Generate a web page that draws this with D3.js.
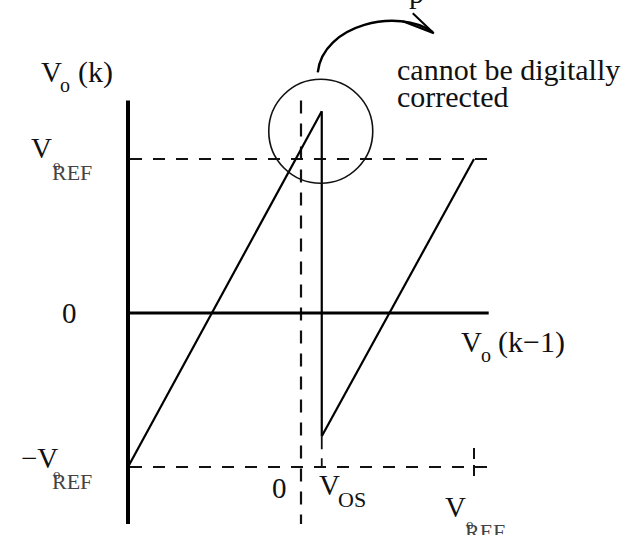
<!DOCTYPE html>
<html>
<head>
<meta charset="utf-8">
<script src="https://cdn.jsdelivr.net/npm/d3@7"></script>
<style>
  html, body { margin: 0; padding: 0; background: #ffffff; }
  svg { display: block; }
  text { font-family: "Liberation Serif", "Times New Roman", serif; fill: #111; }
</style>
</head>
<body>
<svg id="chart" width="628" height="535"></svg>
<script>
// Residue transfer characteristic of a 1-bit pipeline stage with comparator offset.
// Values are in units of VREF.
const vRef = 1;
const vOs = 0.12;

// Transfer curve: rising segment, jump at VOS, second rising segment.
const segmentLow = [
  { vin: -1.0, vout: -1.0 },
  { vin: 0.12, vout: 1.31 }
];
const jumpAtOffset = [
  { vin: 0.12, vout: 1.31 },
  { vin: 0.12, vout: -0.80 }
];
const segmentHigh = [
  { vin: 0.12, vout: -0.80 },
  { vin: 1.0, vout: 1.0 }
];

// Reference levels drawn as dashed guides.
const refLevels = [vRef, -vRef];

const svg = d3.select("#chart");

const x = d3.scaleLinear().domain([-1, 1]).range([128, 474]);
const y = d3.scaleLinear().domain([-1, 1]).range([467, 159]);

const line = d3.line().x(d => x(d.vin)).y(d => y(d.vout));

// Dashed reference levels ±VREF
svg.selectAll("line.ref")
  .data(refLevels)
  .join("line")
  .attr("class", "ref")
  .attr("x1", x(-1) + 2).attr("x2", x(1.1))
  .attr("y1", d => y(d)).attr("y2", d => y(d))
  .attr("stroke", "#111").attr("stroke-width", 2.2)
  .attr("stroke-dasharray", "12,11");

// Dashed vertical at Vo(k-1) = 0
svg.append("line")
  .attr("x1", x(0)).attr("x2", x(0))
  .attr("y1", y(1.38)).attr("y2", y(-1.37))
  .attr("stroke", "#111").attr("stroke-width", 2.2)
  .attr("stroke-dasharray", "13,10");

// Dashed drop from the curve minimum down to -VREF at VOS
svg.append("line")
  .attr("x1", x(vOs)).attr("x2", x(vOs))
  .attr("y1", y(-0.80)).attr("y2", y(-vRef))
  .attr("stroke", "#111").attr("stroke-width", 1.8)
  .attr("stroke-dasharray", "13,9");

// Short dashed tick at VREF on the input axis
svg.append("line")
  .attr("x1", x(vRef)).attr("x2", x(vRef))
  .attr("y1", y(-vRef) - 19).attr("y2", y(-vRef) + 11)
  .attr("stroke", "#111").attr("stroke-width", 2)
  .attr("stroke-dasharray", "11,6");

// Axes
svg.append("line")
  .attr("x1", x(-1)).attr("x2", x(-1))
  .attr("y1", y(1.38)).attr("y2", y(-1.37))
  .attr("stroke", "#000").attr("stroke-width", 4);
svg.append("line")
  .attr("x1", x(-1)).attr("x2", x(1.085))
  .attr("y1", y(0)).attr("y2", y(0))
  .attr("stroke", "#000").attr("stroke-width", 3.2);

// Transfer curve
[segmentLow, jumpAtOffset, segmentHigh].forEach(seg => {
  svg.append("path")
    .attr("d", line(seg))
    .attr("fill", "none")
    .attr("stroke", "#000")
    .attr("stroke-width", 2.2);
});

// Circle marking the overshoot region
const cx = x(vOs) - 1, cy = y(1.18);
const r = 52;
svg.append("circle")
  .attr("cx", cx).attr("cy", cy).attr("r", r)
  .attr("fill", "none").attr("stroke", "#111").attr("stroke-width", 1.6);

// Curved arrow pointing to the note
svg.append("path")
  .attr("d", `M${cx - 3},${cy - r - 7} C${cx + 2},${cy - r - 55} ${cx + 78},${cy - r - 72} ${cx + 112},${cy - r - 47}`)
  .attr("fill", "none").attr("stroke", "#000").attr("stroke-width", 2.4);
svg.append("path")
  .attr("d", `M${cx + 92},${cy - r - 66} L${cx + 113},${cy - r - 46} L${cx + 82},${cy - r - 58}`)
  .attr("fill", "none").attr("stroke", "#000").attr("stroke-width", 2);

// Note text
svg.append("text").attr("x", 397).attr("y", 80).attr("font-size", 30).text("cannot be digitally");
svg.append("text").attr("x", 397).attr("y", 107).attr("font-size", 30).text("corrected");
svg.append("text").attr("x", 409).attr("y", 3).attr("font-size", 30).text("p");

// Output axis label Vo(k)
svg.append("text").attr("x", 41).attr("y", 82).attr("font-size", 29).text("V");
svg.append("text").attr("x", 60).attr("y", 92).attr("font-size", 20).text("o");
svg.append("text").attr("x", 78).attr("y", 82).attr("font-size", 30).text("(k)");

// Input axis label Vo(k-1)
svg.append("text").attr("x", 461).attr("y", 352).attr("font-size", 29).text("V");
svg.append("text").attr("x", 481).attr("y", 362).attr("font-size", 20).text("o");
svg.append("text").attr("x", 498).attr("y", 352).attr("font-size", 30).text("(k−1)");

// Helper for V with an overlapping "o" and REF subscript
function vRefLabel(vx, vy, prefix) {
  svg.append("text").attr("x", vx).attr("y", vy).attr("font-size", 29)
    .attr("text-anchor", "start").text(prefix + "V");
}
function refSub(sx, sy) {
  svg.append("text").attr("x", sx).attr("y", sy).attr("font-size", 22)
    .style("fill", "#444").text("REF");
  svg.append("text").attr("x", sx + 1).attr("y", sy - 10).attr("font-size", 15)
    .style("fill", "#444").text("o");
}

// Output axis ticks
vRefLabel(31, y(vRef) - 1, "");
refSub(52, y(vRef) + 21);
svg.append("text").attr("x", 62).attr("y", y(0) + 10).attr("font-size", 29).text("0");
vRefLabel(21, y(-vRef) + 1, "−");
refSub(52, y(-vRef) + 22);

// Input axis ticks
svg.append("text").attr("x", 272).attr("y", 498).attr("font-size", 29).text("0");
svg.append("text").attr("x", 319).attr("y", 495).attr("font-size", 29).text("V");
svg.append("text").attr("x", 338).attr("y", 507).attr("font-size", 22).text("OS");
svg.append("text").attr("x", 445).attr("y", 517).attr("font-size", 29).text("V");
refSub(465, 539);
</script>
</body>
</html>
